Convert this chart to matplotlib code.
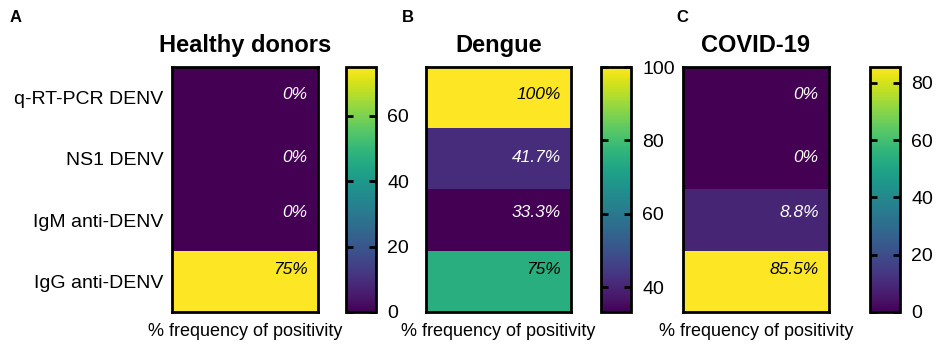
import numpy as np
import matplotlib
matplotlib.use("Agg")
import matplotlib.pyplot as plt

plt.rcParams['font.family'] = ['Liberation Sans', 'DejaVu Sans']

tests = ["q-RT-PCR DENV", "NS1 DENV", "IgM anti-DENV", "IgG anti-DENV"]
titles = ["Healthy donors", "Dengue", "COVID-19"]
letters = ["A", "B", "C"]
healthy = [0, 0, 0, 75]
dengue = [100, 41.7, 33.3, 75]
covid = [0, 0, 8.8, 85.5]
labels_healthy = ["0%", "0%", "0%", "75%"]
labels_dengue = ["100%", "41.7%", "33.3%", "75%"]
labels_covid = ["0%", "0%", "8.8%", "85.5%"]
cbar_ticks = [[0, 20, 40, 60], [40, 60, 80, 100], [0, 20, 40, 60, 80]]

values = [healthy, dengue, covid]
texts = [labels_healthy, labels_dengue, labels_covid]

W, H = 936, 349
fig = plt.figure(figsize=(W / 100, H / 100), dpi=100)

# pixel boxes (left, right) for heatmap and colorbar
heat_x = [(172, 318), (426, 571), (683, 829)]
cbar_x = [(346, 376), (601, 631), (870, 900)]
letter_x = [10, 402, 676]
top, bottom = 67, 312
text_y = [0.45, 1.47, 2.38, 3.3]

def px_axes(x0, x1):
    return fig.add_axes([x0 / W, 1 - bottom / H, (x1 - x0) / W, (bottom - top) / H])

cmap = plt.get_cmap("viridis")

for i in range(3):
    vals = np.array(values[i], dtype=float).reshape(-1, 1)
    ax = px_axes(*heat_x[i])
    vmin, vmax = vals.min(), vals.max()
    im = ax.imshow(vals, cmap=cmap, vmin=vmin, vmax=vmax, aspect="auto",
                   extent=[0, 1, 4, 0], interpolation="nearest")
    ax.set_xlim(0, 1)
    ax.set_ylim(4, 0)
    ax.set_xticks([])
    if i == 0:
        ax.set_yticks(np.arange(4) + 0.5)
        ax.set_yticklabels(tests, fontsize=14)
        ax.tick_params(axis="y", length=0, pad=6)
    else:
        ax.set_yticks([])
    for s in ax.spines.values():
        s.set_linewidth(2)
    ax.set_title(titles[i], fontsize=17, fontweight="bold", pad=11)
    ax.set_xlabel("% frequency of positivity", fontsize=13, labelpad=8)
    for r in range(4):
        frac = (vals[r, 0] - vmin) / (vmax - vmin)
        col = "black" if frac > 0.5 else "white"
        ax.text(0.93, text_y[r], texts[i][r], ha="right", va="center",
                fontsize=12.5, style="italic", color=col)

    cax = px_axes(*cbar_x[i])
    cb = fig.colorbar(im, cax=cax)
    cb.set_ticks(cbar_ticks[i])
    cb.outline.set_linewidth(2)
    cax.tick_params(direction="in", left=True, right=True, length=5, width=2,
                    labelsize=14, pad=8)
    fig.text(letter_x[i] / W, 1 - 18 / H, letters[i],
             fontsize=12, fontweight="bold", ha="left", va="center")

fig.savefig("out.png", dpi=100)
